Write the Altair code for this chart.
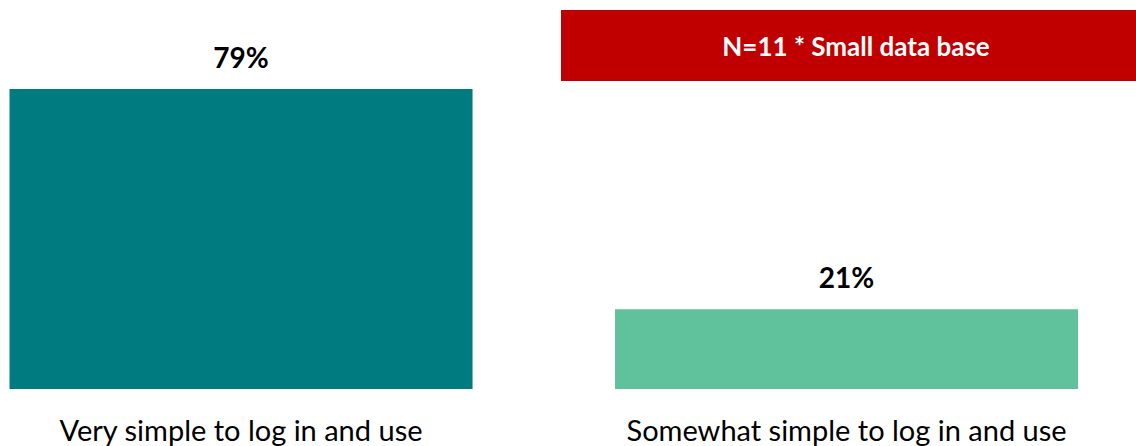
import altair as alt
import pandas as pd

# Survey responses and their shares (%)
categories = ["Very simple to log in and use", "Somewhat simple to log in and use"]
shares = [79, 21]
bar_colors = ["#007C80", "#5FC29D"]
note_text = "N=11 * Small data base"

df = pd.DataFrame({
    "category": categories,
    "share": shares,
    "label": [f"{v}%" for v in shares],
})

FONT = "Lato"

x_enc = alt.X(
    "category:N",
    sort=categories,
    title=None,
    scale=alt.Scale(paddingInner=0.2353, paddingOuter=0.0557, align=0.141),
    axis=alt.Axis(
        labelAngle=0,
        labelFontSize=29,
        labelFont=FONT,
        labelColor="#000000",
        labelPadding=28,
        domain=False,
        ticks=False,
        labelLimit=600,
    ),
)
y_enc = alt.Y(
    "share:Q",
    title=None,
    scale=alt.Scale(domain=[0, 102.4], nice=False),
    axis=None,
)

bars = alt.Chart(df).mark_bar().encode(
    x=x_enc,
    y=y_enc,
    color=alt.Color("category:N", scale=alt.Scale(domain=categories, range=bar_colors), legend=None),
)

values = alt.Chart(df).mark_text(
    font=FONT, fontSize=28, fontWeight="bold", color="#000000", baseline="middle", dy=-29
).encode(x=x_enc, y=y_enc, text="label:N")

note_df = pd.DataFrame({"note": [note_text]})
note_box = alt.Chart(note_df).mark_rect(color="#C00000").encode(
    x=alt.value(561), x2=alt.value(1136), y=alt.value(10), y2=alt.value(81)
)
note_label = alt.Chart(note_df).mark_text(
    font=FONT, fontSize=26, fontWeight="bold", color="#FFFFFF", baseline="middle", align="center"
).encode(x=alt.value(856), y=alt.value(48), text="note:N")

chart = (
    alt.layer(bars, values, note_box, note_label)
    .properties(
        width=1136,
        height=389,
        autosize=alt.AutoSizeParams(type="none"),
        padding={"left": 0, "top": 0, "right": 0, "bottom": 57},
        background="#FFFFFF",
    )
    .configure_view(stroke=None)
)

chart.save("out.html", embed_options={"renderer": "svg", "actions": False})
